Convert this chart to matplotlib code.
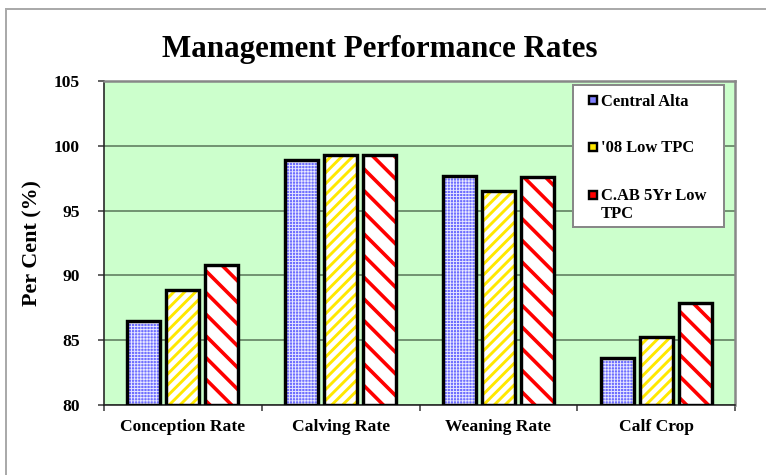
import matplotlib
matplotlib.use("Agg")
import matplotlib.pyplot as plt
import numpy as np
from matplotlib.lines import Line2D
from matplotlib.patches import Rectangle

categories = ["Conception Rate", "Calving Rate", "Weaning Rate", "Calf Crop"]
series_names = ["Central Alta", "'08 Low TPC", "C.AB 5Yr Low\nTPC"]
central_alta = [86.5, 98.9, 97.7, 83.6]
low_tpc_08 = [88.9, 99.3, 96.5, 85.25]
cab_5yr_low_tpc = [90.8, 99.3, 97.6, 87.9]
yticks = [80, 85, 90, 95, 100, 105]

series = [central_alta, low_tpc_08, cab_5yr_low_tpc]
face_colors = ["#6e6eff", "white", "white"]
hatch_colors = ["#e8e8ff", "#ffe800", "#ff0000"]
marker_faces = ["#8080ff", "#ffe800", "#ff0000"]
hatches = ["+++++++", "////", "\\\\"]

DPI = 130
PX = 72 / DPI  # points per pixel
hatch_lws = [0.9 * PX, 2.9 * PX, 3.6 * PX]

plt.rcParams['font.family'] = ['Liberation Serif', 'DejaVu Serif']

W, H = 766, 475
fig = plt.figure(figsize=(W / DPI, H / DPI), dpi=DPI)
fig.patch.set_facecolor("white")


def fx(px):
    return px / W


def fy(py):
    return 1 - py / H


fig.add_artist(Line2D([fx(6), fx(6)], [0, fy(9)], color="#aaaaaa", lw=2 * PX, transform=fig.transFigure))
fig.add_artist(Line2D([fx(6), 1], [fy(9), fy(9)], color="#aaaaaa", lw=2 * PX, transform=fig.transFigure))

ax = fig.add_axes([fx(104), fy(405), (735 - 104) / W, (405 - 81) / H])
ax.set_facecolor("#ccffcc")

x = np.arange(len(categories))
width = 0.21
pitch = 0.247
offsets = [-pitch, 0, pitch]
base = 80
for vals, off, fc, hc, h, hlw in zip(series, offsets, face_colors, hatch_colors, hatches, hatch_lws):
    heights = [v - base for v in vals]
    plt.rcParams['hatch.linewidth'] = hlw
    ax.bar(x + off, heights, width, bottom=base, facecolor=fc, edgecolor=hc,
           hatch=h, linewidth=0, zorder=3)
    ax.bar(x + off, heights, width, bottom=base, facecolor="none", edgecolor="black",
           linewidth=3.4 * PX, zorder=4)

ax.set_xlim(-0.5, len(categories) - 0.5)
ax.set_ylim(80, 105)
ax.set_yticks(yticks)
ax.set_yticklabels([str(t) for t in yticks], fontsize=17.5 * PX, fontweight="bold")
ax.set_xticks(np.arange(len(categories) + 1) - 0.5)
ax.set_xticklabels([""] * (len(categories) + 1))
ax.set_xticks(x, minor=True)
ax.set_xticklabels(categories, minor=True, fontsize=17.5 * PX, fontweight="bold")
ax.tick_params(axis="x", which="minor", length=0, pad=14 * PX)
ax.tick_params(axis="x", which="major", length=6 * PX, width=1.5 * PX, direction="out", color="#333333")
ax.tick_params(axis="y", length=6 * PX, width=1.5 * PX, direction="out", pad=18 * PX, color="#333333")

ax.yaxis.grid(True, color="#6a8a6a", linewidth=1.8 * PX, zorder=1)
ax.set_axisbelow(True)
for s in ["top", "right"]:
    ax.spines[s].set_color("#888888")
    ax.spines[s].set_linewidth(2.5 * PX)
for s in ["left", "bottom"]:
    ax.spines[s].set_color("#222222")
    ax.spines[s].set_linewidth(1.6 * PX)

ax.set_ylabel("Per Cent (%)", fontsize=22 * PX, fontweight="bold", labelpad=11 * PX)
fig.text(fx(380), fy(50), "Management Performance Rates", ha="center", va="center",
         fontsize=31 * PX, fontweight="bold")

# legend box
fig.add_artist(Rectangle((fx(573), fy(227)), (724 - 573) / W, (227 - 85) / H,
                         facecolor="white", edgecolor="#888888", linewidth=2 * PX,
                         transform=fig.transFigure, zorder=6))
entry_y = [100, 147, 195]
line_step = 18
for name, mf, ey in zip(series_names, marker_faces, entry_y):
    fig.add_artist(Rectangle((fx(589), fy(ey + 4)), 8 / W, 8 / H, facecolor=mf,
                             edgecolor="black", linewidth=2.4 * PX,
                             transform=fig.transFigure, zorder=8))
    for i, line in enumerate(name.split("\n")):
        fig.text(fx(601), fy(ey + 5.5 + i * line_step), line, ha="left", va="baseline",
                 fontsize=16.5 * PX, fontweight="bold", zorder=8)

fig.savefig("out.png", dpi=DPI)
